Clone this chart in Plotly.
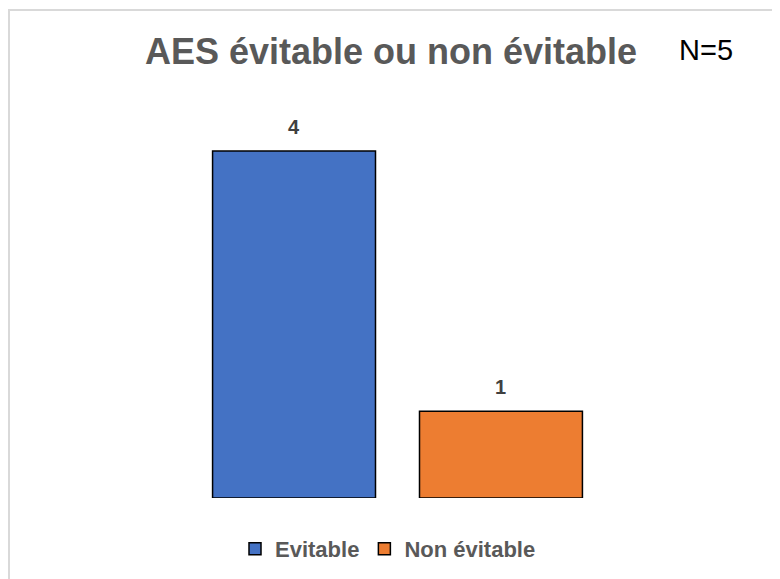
import plotly.graph_objects as go

series_names = ["Evitable", "Non évitable"]
values = [4, 1]
colors = ["#4472C4", "#ED7D31"]
category = [""]

W, H = 780, 579
OFF = 8  # page body margin offset (screen = figure + OFF)
L, R, T, B = 60, 61, 92, 89
pw, ph = W - L - R, H - T - B
ymax = 4 * ph / 347.0
BARGAP = 0.372
GROUPGAP = 0.2126


def px_x(x):
    return (x - OFF - L) / pw


def px_y(y):
    return (H - B - (y - OFF)) / ph


fig = go.Figure()
for name, v, c in zip(series_names, values, colors):
    fig.add_trace(go.Bar(
        x=category, y=[v], name=name,
        marker=dict(color=c, line=dict(color="#000000", width=1.5)),
        offsetgroup=name,
    ))

fig.update_layout(
    width=W, height=H,
    margin=dict(l=L, r=R, t=T, b=B, pad=0),
    paper_bgcolor="white", plot_bgcolor="white",
    barmode="group", bargap=BARGAP, bargroupgap=GROUPGAP,
    font=dict(family="Liberation Sans, Arial", color="#595959"),
    showlegend=True,
    legend=dict(orientation="h", x=px_x(235), xanchor="left", y=px_y(549), yanchor="middle",
                font=dict(size=22, color="#595959", family="Liberation Sans, Arial", weight="bold"),
                itemwidth=30, traceorder="normal", tracegroupgap=0,
                bgcolor="rgba(0,0,0,0)"),
    xaxis=dict(showticklabels=False, showgrid=False, zeroline=False, showline=False),
    yaxis=dict(range=[0, ymax], visible=False),
)

# title
fig.add_annotation(text="<b>AES évitable ou non évitable</b>", xref="paper", yref="paper",
                   x=px_x(391), y=px_y(52), xanchor="center", yanchor="middle",
                   showarrow=False, font=dict(size=36, color="#595959", family="Liberation Sans, Arial"))
fig.add_annotation(text="N=5", xref="paper", yref="paper",
                   x=px_x(706), y=px_y(50), xanchor="center", yanchor="middle",
                   showarrow=False, font=dict(size=29, color="#000000", family="Liberation Sans, Arial"))

# value labels
n = len(values)
slot = (1 - BARGAP) / n
for i, v in enumerate(values):
    xoff = (i - (n - 1) / 2) * slot
    fig.add_annotation(text="<b>%d</b>" % v, x=xoff, xref="x", y=v, yref="y",
                       yshift=24, showarrow=False, xanchor="center", yanchor="middle",
                       font=dict(size=20, color="#404040", family="Liberation Sans, Arial"))

# chart border
fig.add_shape(type="rect", xref="paper", yref="paper",
              x0=-L / pw + 1 / pw, x1=px_x(800), y0=px_y(600), y1=px_y(10),
              line=dict(color="#D9D9D9", width=2), fillcolor="rgba(0,0,0,0)", layer="below")

fig.write_html("out.html")
